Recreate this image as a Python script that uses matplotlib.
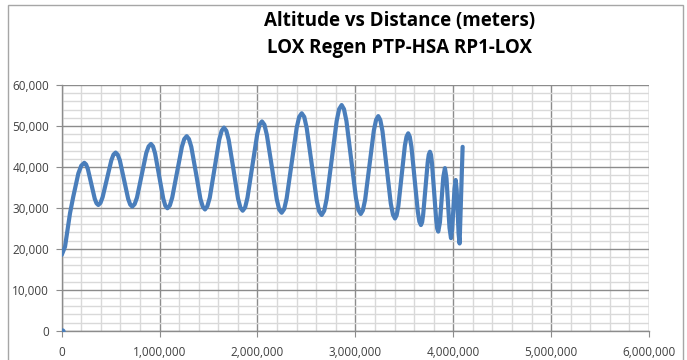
import matplotlib
matplotlib.use("Agg")
import matplotlib.pyplot as plt
from matplotlib.ticker import MultipleLocator, FuncFormatter
from matplotlib.patches import Rectangle

title_lines = ["Altitude vs Distance (meters)", "LOX Regen PTP-HSA RP1-LOX"]

# distance in millions of meters
distance_m = [
    0.000, 0.034, 0.085, 0.118, 0.170, 0.200, 0.231,
    0.249, 0.267, 0.302, 0.338, 0.356, 0.374,
    0.396, 0.418, 0.463, 0.507, 0.529, 0.551,
    0.572, 0.594, 0.636, 0.679, 0.700, 0.721,
    0.745, 0.769, 0.817, 0.864, 0.888, 0.912,
    0.933, 0.954, 0.996, 1.038, 1.059, 1.080,
    1.105, 1.129, 1.179, 1.228, 1.252, 1.277,
    1.300, 1.324, 1.371, 1.417, 1.441, 1.464,
    1.488, 1.513, 1.561, 1.610, 1.634, 1.658,
    1.682, 1.706, 1.754, 1.801, 1.825, 1.849,
    1.874, 1.898, 1.948, 1.997, 2.021, 2.046,
    2.071, 2.096, 2.147, 2.197, 2.222, 2.247,
    2.273, 2.298, 2.350, 2.401, 2.426, 2.452,
    2.478, 2.503, 2.554, 2.605, 2.630, 2.656,
    2.682, 2.707, 2.758, 2.809, 2.834, 2.860,
    2.884, 2.909, 2.958, 3.006, 3.031, 3.055,
    3.077, 3.100, 3.145, 3.189, 3.212, 3.234,
    3.255, 3.277, 3.320, 3.362, 3.384, 3.405,
    3.422, 3.439, 3.473, 3.506, 3.523, 3.540,
    3.556, 3.573, 3.605, 3.638, 3.654, 3.670,
    3.682, 3.693, 3.716, 3.739, 3.750, 3.762,
    3.773, 3.783, 3.805, 3.826, 3.836, 3.847,
    3.864, 3.881, 3.898, 3.915,
    3.931, 3.946, 3.962, 3.977,
    3.989, 4.001, 4.013, 4.025,
    4.035, 4.045, 4.055, 4.065,
    4.080, 4.096,
]
# altitude in thousands of meters
altitude_k = [
    18.5, 20.5, 28.7, 32.7, 38.4, 40.3, 41.0,
    40.6, 39.5, 35.9, 32.2, 31.1, 30.7,
    31.2, 32.6, 37.1, 41.6, 43.0, 43.5,
    43.0, 41.6, 36.9, 32.2, 30.8, 30.3,
    30.9, 32.5, 38.0, 43.4, 45.0, 45.6,
    45.0, 43.3, 37.8, 32.2, 30.5, 29.9,
    30.6, 32.5, 38.7, 44.9, 46.8, 47.5,
    46.8, 44.9, 38.6, 32.2, 30.3, 29.6,
    30.4, 32.5, 39.6, 46.7, 48.8, 49.6,
    48.8, 46.6, 39.5, 32.3, 30.1, 29.3,
    30.1, 32.5, 40.2, 47.9, 50.3, 51.1,
    50.3, 47.8, 40.0, 32.1, 29.6, 28.8,
    29.7, 32.3, 41.0, 49.6, 52.2, 53.1,
    52.2, 49.5, 40.7, 31.9, 29.2, 28.25,
    29.3, 32.2, 41.7, 51.2, 54.1, 55.1,
    54.1, 51.2, 41.8, 32.4, 29.5, 28.5,
    29.4, 32.0, 40.45, 48.9, 51.5, 52.4,
    51.45, 48.75, 39.9, 31.05, 28.35, 27.4,
    28.2, 30.4, 37.8, 45.2, 47.4, 48.2,
    47.35, 44.9, 37.0, 29.1, 26.65, 25.8,
    26.5, 28.4, 34.75, 41.1, 43.0, 43.7,
    42.95, 40.85, 33.95, 27.05, 24.95, 24.2,
    26.45, 31.95, 37.45, 39.7,
    37.2, 31.15, 25.1, 22.6,
    24.7, 29.7, 34.7, 36.8,
    34.5, 29.05, 23.6, 21.3,
    33.1, 44.9,
]
origin_x = [0]
origin_y = [0]

x = [v * 1e6 for v in distance_m]
y = [v * 1e3 for v in altitude_k]

fig = plt.figure(figsize=(6.87, 3.60), dpi=100)
fig.patch.set_facecolor("white")
ax = fig.add_axes([0.0898, 0.0814, 0.9447 - 0.0898, 0.7639 - 0.0814])

ax.plot(x, y, color="#4A7EBB", lw=3.0, solid_joinstyle="round", solid_capstyle="round", zorder=3)
ax.plot(origin_x, origin_y, "o", color="#4A7EBB", ms=3.5, zorder=3)

ax.set_xlim(0, 6e6)
ax.set_ylim(0, 60000)
ax.xaxis.set_major_locator(MultipleLocator(1e6))
ax.xaxis.set_minor_locator(MultipleLocator(2e5))
ax.yaxis.set_major_locator(MultipleLocator(10000))
ax.yaxis.set_minor_locator(MultipleLocator(2000))
fmt = FuncFormatter(lambda v, p: f"{int(round(v)):,}")
ax.xaxis.set_major_formatter(fmt)
ax.yaxis.set_major_formatter(fmt)

ax.grid(which="major", color="#8C8C8C", lw=1.0, zorder=1)
ax.grid(which="minor", color="#D9D9D9", lw=1.0, zorder=0)
ax.set_axisbelow(True)
for s in ["top", "right"]:
    ax.spines[s].set_visible(False)
for s in ["left", "bottom"]:
    ax.spines[s].set_color("#8C8C8C")
    ax.spines[s].set_linewidth(1.0)
ax.tick_params(which="major", length=4, color="#8C8C8C", labelsize=8.5, labelcolor="#404040")
ax.tick_params(which="minor", length=0)
ax.tick_params(axis="x", pad=7)
ax.tick_params(axis="y", pad=5)
for lab in ax.get_xticklabels() + ax.get_yticklabels():
    lab.set_family("Open Sans")

fig.text(400 / 687, 1 - 21 / 360, title_lines[0], ha="center", va="center",
         fontsize=13.5, fontweight="bold", family="Open Sans", color="#000000")
fig.text(400 / 687, 1 - 48 / 360, title_lines[1], ha="center", va="center",
         fontsize=13.5, fontweight="bold", family="Open Sans", color="#000000")

fig.add_artist(Rectangle((8 / 687, -0.1), (683 - 8) / 687, 1.1 - 5 / 360,
                         transform=fig.transFigure, fill=False, ec="#A6A6A6", lw=1.0))

fig.savefig("out.png", dpi=100)
